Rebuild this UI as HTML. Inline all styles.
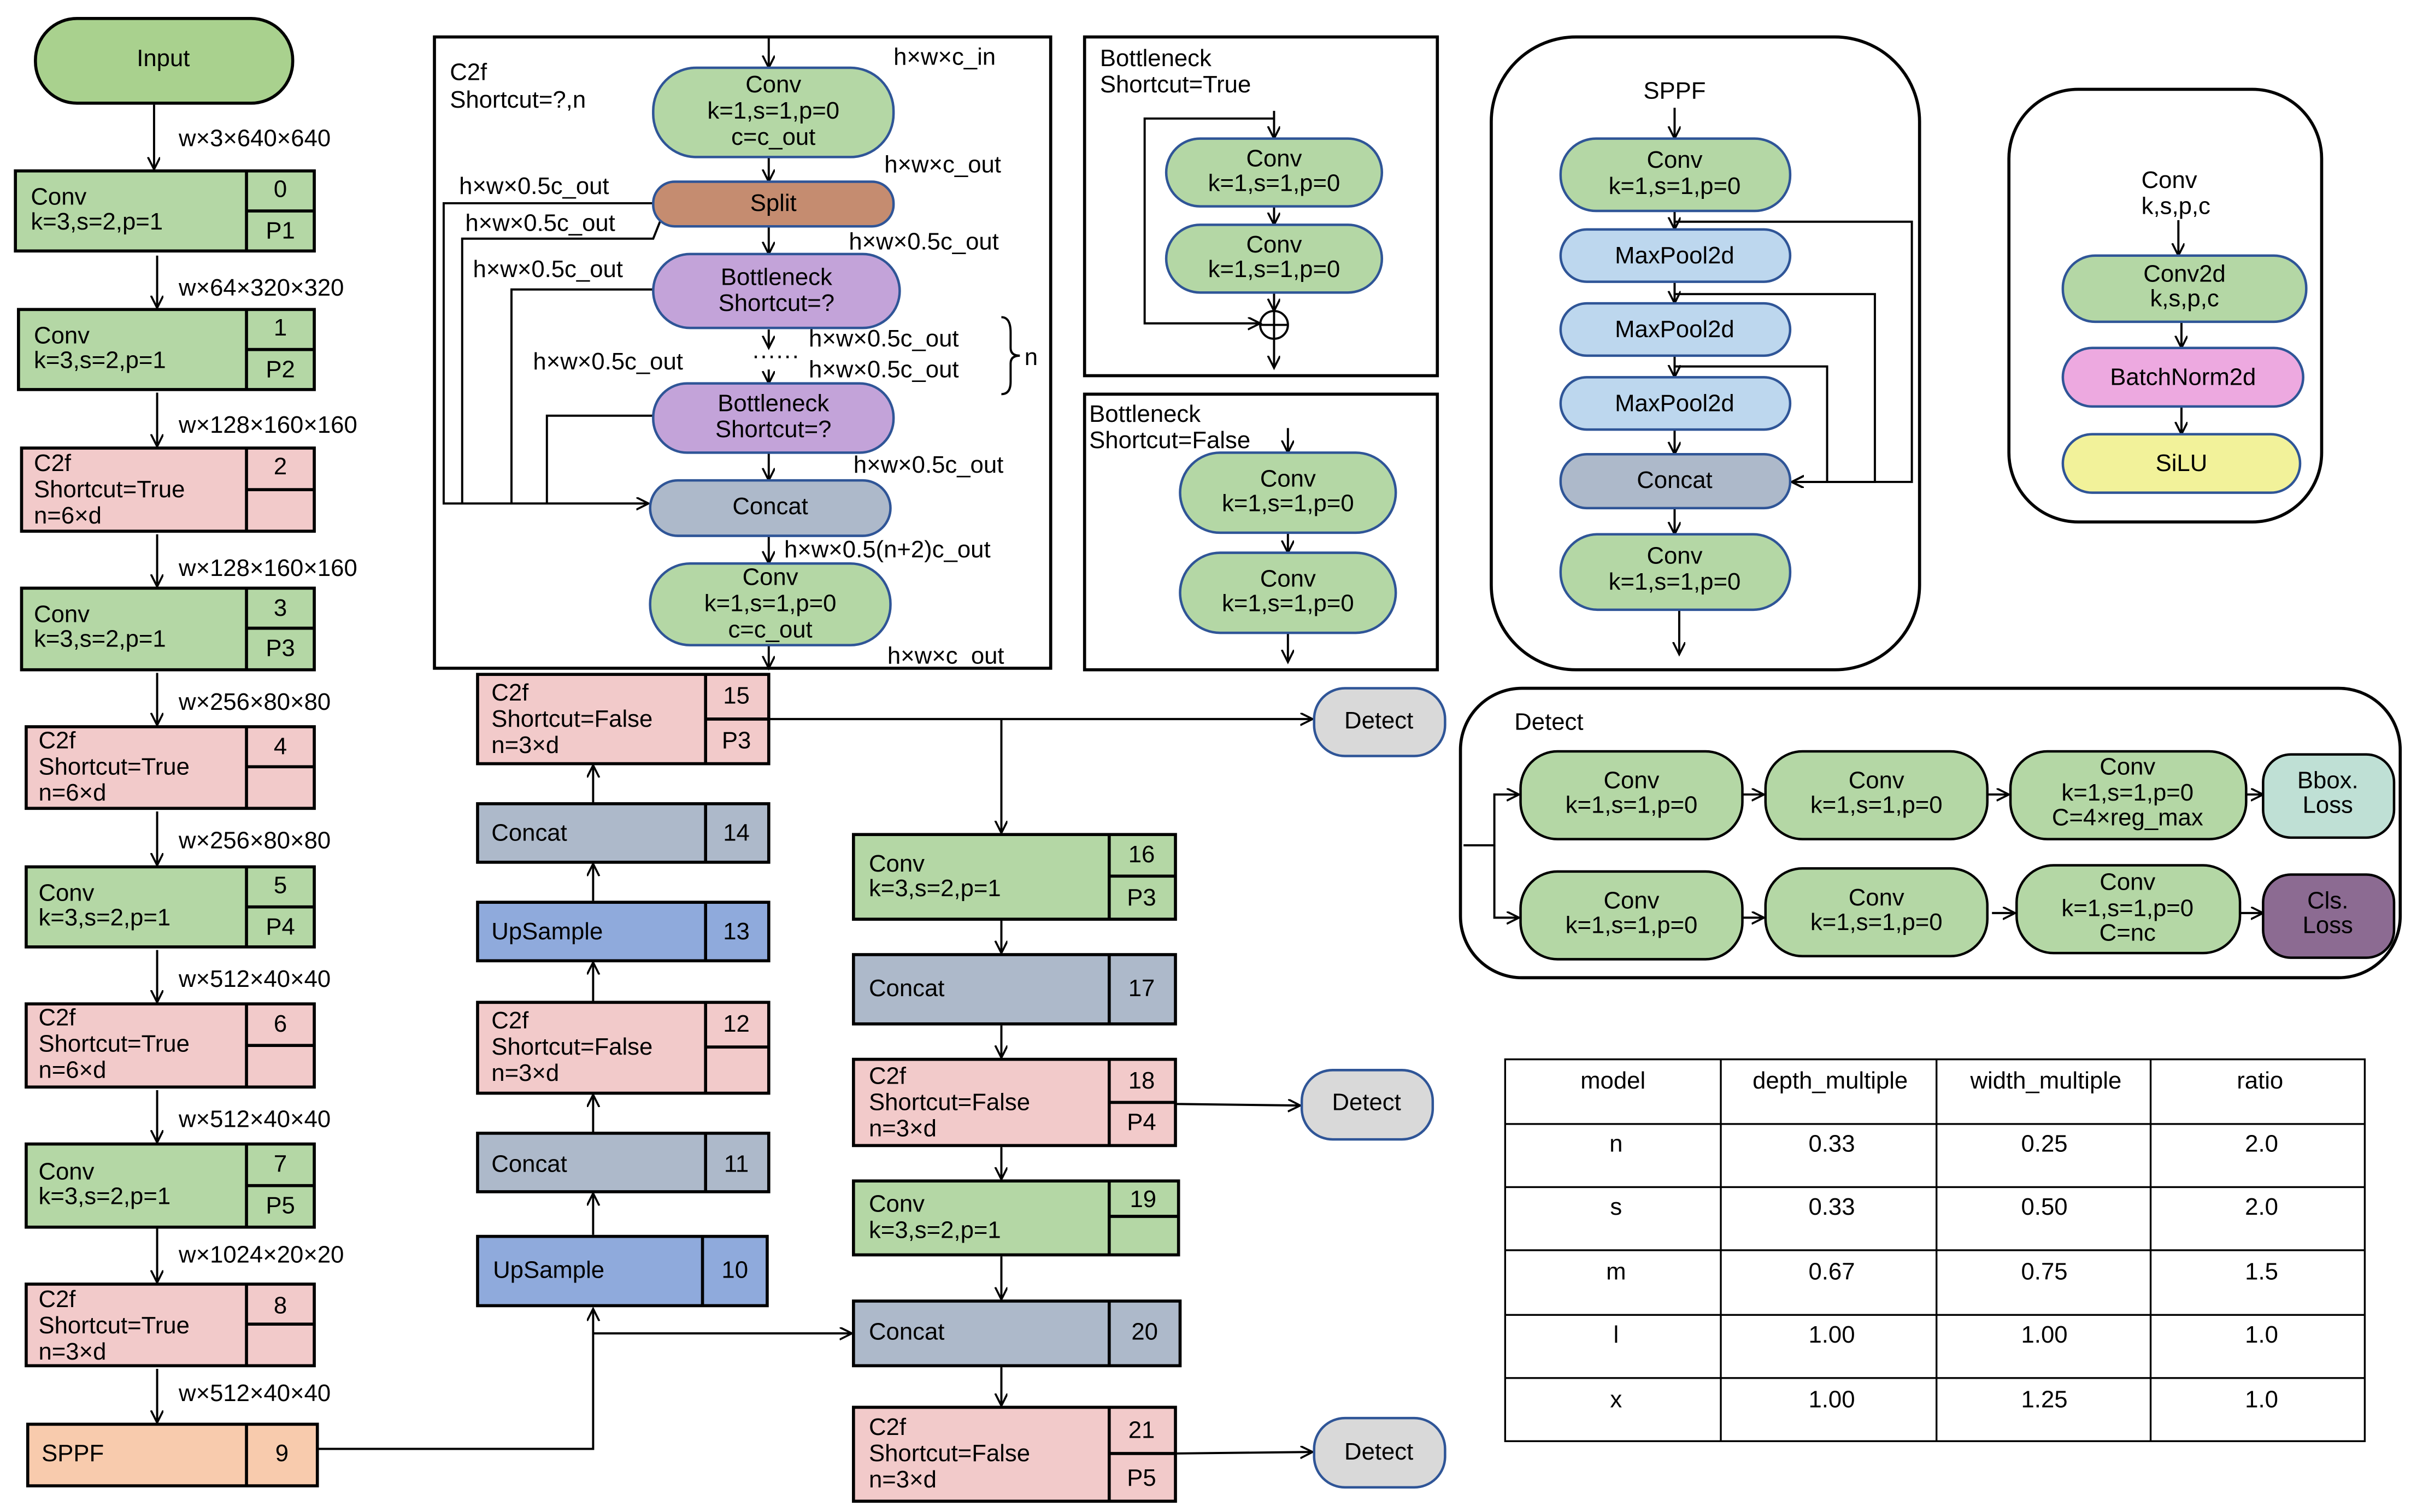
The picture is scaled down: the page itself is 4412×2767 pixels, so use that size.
<!DOCTYPE html>
<html><head><meta charset="utf-8"><style>
html,body{margin:0;padding:0;background:#fff;}
svg{display:block;}
text{font-family:"Liberation Sans",sans-serif;font-size:15.5px;fill:#000;}
.c{text-anchor:middle;}
.b{stroke:#000;stroke-width:2;}
.p{stroke:#2f5597;stroke-width:1.6;}
.l{stroke:#000;stroke-width:1.4;fill:none;}
</style></head><body>
<svg width="4412" height="2767" viewBox="0 0 1565 982" preserveAspectRatio="none" xmlns="http://www.w3.org/2000/svg">
<defs>
<marker id="a" markerWidth="10" markerHeight="10" refX="8" refY="4" orient="auto" markerUnits="userSpaceOnUse">
<path d="M0,0 L8,4 L0,8" fill="none" stroke="#000" stroke-width="1.3"/></marker>
</defs>
<rect width="1565" height="982" fill="#fff"/>

<!-- LEFT COLUMN -->
<rect x="23" y="12" width="167" height="55" rx="27" fill="#a9d18e" class="b"/>
<text x="106" y="43" class="c">Input</text>
<g class="l" marker-end="url(#a)">
<path d="M100,68 V110"/><path d="M102,166 V200"/><path d="M102,255 V290"/><path d="M102,347 V381"/>
<path d="M102,437 V471"/><path d="M102,527 V562"/><path d="M102,617 V651"/><path d="M102,708 V742"/>
<path d="M102,798 V833"/><path d="M102,889 V924"/>
</g>
<text x="116" y="95">w×3×640×640</text>
<text x="116" y="192">w×64×320×320</text>
<text x="116" y="281">w×128×160×160</text>
<text x="116" y="374">w×128×160×160</text>
<text x="116" y="461">w×256×80×80</text>
<text x="116" y="551">w×256×80×80</text>
<text x="116" y="641">w×512×40×40</text>
<text x="116" y="732">w×512×40×40</text>
<text x="116" y="820">w×1024×20×20</text>
<text x="116" y="910">w×512×40×40</text>

<!-- boxes -->
<g>
<rect x="10" y="111" width="194" height="52" fill="#b4d7a5" class="b"/><path d="M160,111V163M160,137H204" class="b"/>
<text x="20" y="133">Conv</text><text x="20" y="149">k=3,s=2,p=1</text><text x="182" y="128" class="c">0</text><text x="182" y="155" class="c">P1</text>

<rect x="12" y="201" width="192" height="52" fill="#b4d7a5" class="b"/><path d="M160,201V253M160,227H204" class="b"/>
<text x="22" y="223">Conv</text><text x="22" y="239">k=3,s=2,p=1</text><text x="182" y="218" class="c">1</text><text x="182" y="245" class="c">P2</text>

<rect x="14" y="291" width="190" height="54" fill="#f2caca" class="b"/><path d="M160,291V345M160,318H204" class="b"/>
<text x="22" y="306">C2f</text><text x="22" y="323">Shortcut=True</text><text x="22" y="340">n=6×d</text><text x="182" y="308" class="c">2</text>

<rect x="14" y="382" width="190" height="53" fill="#b4d7a5" class="b"/><path d="M160,382V435M160,408H204" class="b"/>
<text x="22" y="404">Conv</text><text x="22" y="420">k=3,s=2,p=1</text><text x="182" y="400" class="c">3</text><text x="182" y="426" class="c">P3</text>

<rect x="17" y="472" width="187" height="53" fill="#f2caca" class="b"/><path d="M160,472V525M160,498H204" class="b"/>
<text x="25" y="486">C2f</text><text x="25" y="503">Shortcut=True</text><text x="25" y="520">n=6×d</text><text x="182" y="490" class="c">4</text>

<rect x="17" y="563" width="187" height="52" fill="#b4d7a5" class="b"/><path d="M160,563V615M160,589H204" class="b"/>
<text x="25" y="585">Conv</text><text x="25" y="601">k=3,s=2,p=1</text><text x="182" y="580" class="c">5</text><text x="182" y="607" class="c">P4</text>

<rect x="17" y="652" width="187" height="54" fill="#f2caca" class="b"/><path d="M160,652V706M160,679H204" class="b"/>
<text x="25" y="666">C2f</text><text x="25" y="683">Shortcut=True</text><text x="25" y="700">n=6×d</text><text x="182" y="670" class="c">6</text>

<rect x="17" y="743" width="187" height="54" fill="#b4d7a5" class="b"/><path d="M160,743V797M160,770H204" class="b"/>
<text x="25" y="766">Conv</text><text x="25" y="782">k=3,s=2,p=1</text><text x="182" y="761" class="c">7</text><text x="182" y="788" class="c">P5</text>

<rect x="17" y="834" width="187" height="53" fill="#f2caca" class="b"/><path d="M160,834V887M160,860H204" class="b"/>
<text x="25" y="849">C2f</text><text x="25" y="866">Shortcut=True</text><text x="25" y="883">n=3×d</text><text x="182" y="853" class="c">8</text>

<rect x="18" y="925" width="188" height="40" fill="#f8cbad" class="b"/><path d="M160,925V965" class="b"/>
<text x="27" y="949">SPPF</text><text x="183" y="949" class="c">9</text>
</g>

<!-- MIDDLE COLUMN -->
<rect x="310" y="438" width="189" height="58" fill="#f2caca" class="b"/><path d="M458,438V496M458,467H499" class="b"/>
<text x="319" y="455">C2f</text><text x="319" y="472">Shortcut=False</text><text x="319" y="489">n=3×d</text><text x="478" y="457" class="c">15</text><text x="478" y="486" class="c">P3</text>

<rect x="310" y="522" width="189" height="38" fill="#adb9ca" class="b"/><path d="M458,522V560" class="b"/>
<text x="319" y="546">Concat</text><text x="478" y="546" class="c">14</text>

<rect x="310" y="586" width="189" height="38" fill="#8faadc" class="b"/><path d="M458,586V624" class="b"/>
<text x="319" y="610">UpSample</text><text x="478" y="610" class="c">13</text>

<rect x="310" y="651" width="189" height="59" fill="#f2caca" class="b"/><path d="M458,651V710M458,680H499" class="b"/>
<text x="319" y="668">C2f</text><text x="319" y="685">Shortcut=False</text><text x="319" y="702">n=3×d</text><text x="478" y="670" class="c">12</text>

<rect x="310" y="736" width="189" height="38" fill="#adb9ca" class="b"/><path d="M458,736V774" class="b"/>
<text x="319" y="761">Concat</text><text x="478" y="761" class="c">11</text>

<rect x="310" y="803" width="188" height="45" fill="#8faadc" class="b"/><path d="M456,803V848" class="b"/>
<text x="320" y="830">UpSample</text><text x="477" y="830" class="c">10</text>

<g class="l" marker-end="url(#a)">
<path d="M385,521V497"/><path d="M385,585V561"/><path d="M385,650V625"/><path d="M385,735V711"/><path d="M385,802V775"/>
<path d="M206,941H385V850"/>
<path d="M385,866H553"/>
<path d="M499,467H852"/>
<path d="M650,467V541"/>
<path d="M650,598V619"/><path d="M650,666V687"/><path d="M650,745V766"/><path d="M650,816V844"/><path d="M650,888V913"/>
<path d="M763,717L844,718"/>
<path d="M763,944L852,943"/>
</g>

<!-- THIRD COLUMN -->
<rect x="554" y="542" width="209" height="55" fill="#b4d7a5" class="b"/><path d="M720,542V597M720,569H763" class="b"/>
<text x="564" y="566">Conv</text><text x="564" y="582">k=3,s=2,p=1</text><text x="741" y="560" class="c">16</text><text x="741" y="588" class="c">P3</text>

<rect x="554" y="620" width="209" height="45" fill="#adb9ca" class="b"/><path d="M720,620V665" class="b"/>
<text x="564" y="647">Concat</text><text x="741" y="647" class="c">17</text>

<rect x="554" y="688" width="209" height="56" fill="#f2caca" class="b"/><path d="M720,688V744M720,716H763" class="b"/>
<text x="564" y="704">C2f</text><text x="564" y="721">Shortcut=False</text><text x="564" y="738">n=3×d</text><text x="741" y="707" class="c">18</text><text x="741" y="734" class="c">P4</text>

<rect x="554" y="767" width="211" height="48" fill="#b4d7a5" class="b"/><path d="M720,767V815M720,790H765" class="b"/>
<text x="564" y="787">Conv</text><text x="564" y="804">k=3,s=2,p=1</text><text x="742" y="784" class="c">19</text>

<rect x="554" y="845" width="212" height="42" fill="#adb9ca" class="b"/><path d="M720,845V887" class="b"/>
<text x="564" y="870">Concat</text><text x="743" y="870" class="c">20</text>

<rect x="554" y="914" width="209" height="61" fill="#f2caca" class="b"/><path d="M720,914V975M720,944H763" class="b"/>
<text x="564" y="932">C2f</text><text x="564" y="949">Shortcut=False</text><text x="564" y="966">n=3×d</text><text x="741" y="934" class="c">21</text><text x="741" y="965" class="c">P5</text>

<!-- Detect pills -->
<rect x="853" y="447" width="85" height="44" rx="20" fill="#d9d9d9" class="p"/><text x="895" y="473" class="c">Detect</text>
<rect x="845" y="695" width="85" height="45" rx="20" fill="#d9d9d9" class="p"/><text x="887" y="721" class="c">Detect</text>
<rect x="853" y="921" width="85" height="45" rx="20" fill="#d9d9d9" class="p"/><text x="895" y="948" class="c">Detect</text>

<!-- C2f PANEL -->
<rect x="282" y="24" width="400" height="410" fill="none" class="b"/>
<text x="292" y="52">C2f</text><text x="292" y="70">Shortcut=?,n</text>
<text x="580" y="42">h×w×c_in</text>
<text x="574" y="112">h×w×c_out</text>
<text x="298" y="126">h×w×0.5c_out</text>
<text x="302" y="150">h×w×0.5c_out</text>
<text x="551" y="162">h×w×0.5c_out</text>
<text x="307" y="180">h×w×0.5c_out</text>
<text x="525" y="225">h×w×0.5c_out</text>
<text x="525" y="245">h×w×0.5c_out</text>
<text x="346" y="240">h×w×0.5c_out</text>
<text x="488" y="236">······</text>
<text x="665" y="237">n</text>
<path d="M650,206 Q656,206 656,216 V226 Q656,231 662,231 Q656,231 656,236 V248 Q656,256 650,256" class="l"/>
<text x="554" y="307">h×w×0.5c_out</text>
<text x="509" y="362">h×w×0.5(n+2)c_out</text>
<text x="576" y="431">h×w×c_out</text>

<g class="l" marker-end="url(#a)">
<path d="M499,25V44"/>
<path d="M499,102V118"/>
<path d="M499,147V165"/>
<path d="M499,214V226"/>
<path d="M499,240V249"/>
<path d="M499,294V312"/>
<path d="M499,348V366"/>
<path d="M499,419V434"/>
<path d="M424,132H288V327H421"/>
</g>
<path d="M430,140 L424,155H300V327" class="l"/>
<path d="M424,188H332V327" class="l"/>
<path d="M424,270H355V327" class="l"/>

<rect x="424" y="44" width="156" height="58" rx="28" fill="#b4d7a5" class="p"/>
<text x="502" y="60" class="c">Conv</text><text x="502" y="77" class="c">k=1,s=1,p=0</text><text x="502" y="94" class="c">c=c_out</text>
<rect x="424" y="118" width="156" height="29" rx="14" fill="#c58c70" class="p"/><text x="502" y="137" class="c">Split</text>
<rect x="424" y="165" width="160" height="48" rx="24" fill="#c3a3d9" class="p"/><text x="504" y="185" class="c">Bottleneck</text><text x="504" y="202" class="c">Shortcut=?</text>
<rect x="424" y="249" width="156" height="45" rx="22" fill="#c3a3d9" class="p"/><text x="502" y="267" class="c">Bottleneck</text><text x="502" y="284" class="c">Shortcut=?</text>
<rect x="422" y="312" width="156" height="36" rx="18" fill="#adb9ca" class="p"/><text x="500" y="334" class="c">Concat</text>
<rect x="422" y="366" width="156" height="53" rx="26" fill="#b4d7a5" class="p"/>
<text x="500" y="380" class="c">Conv</text><text x="500" y="397" class="c">k=1,s=1,p=0</text><text x="500" y="414" class="c">c=c_out</text>

<!-- BOTTLENECK TRUE -->
<rect x="704" y="24" width="229" height="220" fill="none" class="b"/>
<text x="714" y="43">Bottleneck</text><text x="714" y="60">Shortcut=True</text>
<g class="l" marker-end="url(#a)">
<path d="M827,72V90"/><path d="M827,134V146"/><path d="M827,190V202"/>
<path d="M827,220V239"/>
<path d="M827,77H743V210H818"/>
</g>
<rect x="757" y="90" width="140" height="44" rx="22" fill="#b4d7a5" class="p"/><text x="827" y="108" class="c">Conv</text><text x="827" y="124" class="c">k=1,s=1,p=0</text>
<rect x="757" y="146" width="140" height="44" rx="22" fill="#b4d7a5" class="p"/><text x="827" y="164" class="c">Conv</text><text x="827" y="180" class="c">k=1,s=1,p=0</text>
<circle cx="827" cy="211" r="9" fill="#fff" class="l"/><path d="M818,211H836M827,202V220" class="l"/>

<!-- BOTTLENECK FALSE -->
<rect x="704" y="256" width="229" height="179" fill="none" class="b"/>
<text x="707" y="274">Bottleneck</text><text x="707" y="291">Shortcut=False</text>
<g class="l" marker-end="url(#a)">
<path d="M836,278V294"/><path d="M836,346V359"/><path d="M836,411V430"/>
</g>
<rect x="766" y="294" width="140" height="52" rx="26" fill="#b4d7a5" class="p"/><text x="836" y="316" class="c">Conv</text><text x="836" y="332" class="c">k=1,s=1,p=0</text>
<rect x="766" y="359" width="140" height="52" rx="26" fill="#b4d7a5" class="p"/><text x="836" y="381" class="c">Conv</text><text x="836" y="397" class="c">k=1,s=1,p=0</text>

<!-- SPPF PANEL -->
<rect x="968" y="24" width="278" height="411" rx="55" fill="none" class="b"/>
<text x="1087" y="64" class="c">SPPF</text>
<g class="l" marker-end="url(#a)">
<path d="M1087,70V90"/><path d="M1087,137V149"/><path d="M1087,183V197"/><path d="M1087,231V245"/><path d="M1087,279V295"/>
<path d="M1087,330V347"/><path d="M1090,396V425"/>
<path d="M1087,144H1241V313H1163"/>
<path d="M1087,191H1217V313H1163"/>
<path d="M1087,238H1186V313H1163"/>
</g>
<rect x="1013" y="90" width="149" height="47" rx="23" fill="#b4d7a5" class="p"/><text x="1087" y="109" class="c">Conv</text><text x="1087" y="126" class="c">k=1,s=1,p=0</text>
<rect x="1013" y="149" width="149" height="34" rx="17" fill="#bdd7ee" class="p"/><text x="1087" y="171" class="c">MaxPool2d</text>
<rect x="1013" y="197" width="149" height="34" rx="17" fill="#bdd7ee" class="p"/><text x="1087" y="219" class="c">MaxPool2d</text>
<rect x="1013" y="245" width="149" height="34" rx="17" fill="#bdd7ee" class="p"/><text x="1087" y="267" class="c">MaxPool2d</text>
<rect x="1013" y="295" width="149" height="35" rx="17" fill="#adb9ca" class="p"/><text x="1087" y="317" class="c">Concat</text>
<rect x="1013" y="347" width="149" height="49" rx="24" fill="#b4d7a5" class="p"/><text x="1087" y="366" class="c">Conv</text><text x="1087" y="383" class="c">k=1,s=1,p=0</text>

<!-- CONV PANEL -->
<rect x="1304" y="58" width="203" height="281" rx="45" fill="none" class="b"/>
<text x="1390" y="122">Conv</text><text x="1390" y="139">k,s,p,c</text>
<g class="l" marker-end="url(#a)">
<path d="M1414,143V166"/><path d="M1416,209V226"/><path d="M1416,264V282"/>
</g>
<rect x="1339" y="166" width="158" height="43" rx="21" fill="#b4d7a5" class="p"/><text x="1418" y="183" class="c">Conv2d</text><text x="1418" y="199" class="c">k,s,p,c</text>
<rect x="1339" y="226" width="156" height="38" rx="19" fill="#eda9e0" class="p"/><text x="1417" y="250" class="c">BatchNorm2d</text>
<rect x="1339" y="282" width="154" height="38" rx="19" fill="#f2f29a" class="p"/><text x="1416" y="306" class="c">SiLU</text>

<!-- DETECT PANEL -->
<rect x="948" y="447" width="610" height="188" rx="40" fill="none" class="b"/>
<text x="983" y="474">Detect</text>
<g class="l" marker-end="url(#a)">
<path d="M950,549H970V516H986"/><path d="M970,549V596H986"/>
<path d="M1131,516H1145"/><path d="M1290,516H1304"/><path d="M1458,516H1469"/>
<path d="M1131,596H1145"/><path d="M1293,593H1308"/><path d="M1454,593H1469"/>
</g>
<g stroke="#000" stroke-width="1.6">
<rect x="987" y="488" width="144" height="57" rx="24" fill="#b4d7a5"/>
<rect x="1146" y="488" width="144" height="57" rx="24" fill="#b4d7a5"/>
<rect x="1305" y="488" width="153" height="57" rx="24" fill="#b4d7a5"/>
<rect x="1469" y="490" width="85" height="54" rx="18" fill="#bfe0d5"/>
<rect x="987" y="566" width="144" height="57" rx="24" fill="#b4d7a5"/>
<rect x="1146" y="564" width="144" height="57" rx="24" fill="#b4d7a5"/>
<rect x="1309" y="562" width="145" height="57" rx="24" fill="#b4d7a5"/>
<rect x="1469" y="568" width="85" height="54" rx="18" fill="#8c6b92"/>
</g>
<text x="1059" y="512" class="c">Conv</text><text x="1059" y="528" class="c">k=1,s=1,p=0</text>
<text x="1218" y="512" class="c">Conv</text><text x="1218" y="528" class="c">k=1,s=1,p=0</text>
<text x="1381" y="503" class="c">Conv</text><text x="1381" y="520" class="c">k=1,s=1,p=0</text><text x="1381" y="536" class="c">C=4×reg_max</text>
<text x="1511" y="512" class="c">Bbox.</text><text x="1511" y="528" class="c">Loss</text>
<text x="1059" y="590" class="c">Conv</text><text x="1059" y="606" class="c">k=1,s=1,p=0</text>
<text x="1218" y="588" class="c">Conv</text><text x="1218" y="604" class="c">k=1,s=1,p=0</text>
<text x="1381" y="578" class="c">Conv</text><text x="1381" y="595" class="c">k=1,s=1,p=0</text><text x="1381" y="611" class="c">C=nc</text>
<text x="1511" y="590" class="c">Cls.</text><text x="1511" y="606" class="c">Loss</text>

<!-- TABLE -->
<g stroke="#000" stroke-width="1.2" fill="none">
<rect x="977" y="688" width="558" height="248"/>
<path d="M1117,688V936M1257,688V936M1396,688V936"/>
<path d="M977,730H1535M977,771H1535M977,812H1535M977,854H1535M977,895H1535"/>
</g>
<g class="c">
<text x="1047" y="707" class="c">model</text><text x="1188" y="707" class="c">depth_multiple</text><text x="1328" y="707" class="c">width_multiple</text><text x="1467" y="707" class="c">ratio</text>
<text x="1049" y="748" class="c">n</text><text x="1189" y="748" class="c">0.33</text><text x="1327" y="748" class="c">0.25</text><text x="1468" y="748" class="c">2.0</text>
<text x="1049" y="789" class="c">s</text><text x="1189" y="789" class="c">0.33</text><text x="1327" y="789" class="c">0.50</text><text x="1468" y="789" class="c">2.0</text>
<text x="1049" y="831" class="c">m</text><text x="1189" y="831" class="c">0.67</text><text x="1327" y="831" class="c">0.75</text><text x="1468" y="831" class="c">1.5</text>
<text x="1049" y="872" class="c">l</text><text x="1189" y="872" class="c">1.00</text><text x="1327" y="872" class="c">1.00</text><text x="1468" y="872" class="c">1.0</text>
<text x="1049" y="914" class="c">x</text><text x="1189" y="914" class="c">1.00</text><text x="1327" y="914" class="c">1.25</text><text x="1468" y="914" class="c">1.0</text>
</g>
</svg>
</body></html>
